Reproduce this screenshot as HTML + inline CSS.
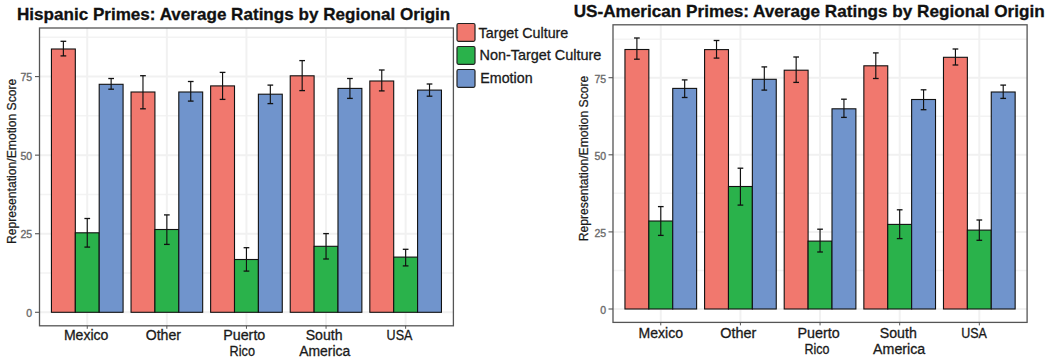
<!DOCTYPE html>
<html><head><meta charset="utf-8"><style>
html,body{margin:0;padding:0;background:#fff;width:1050px;height:363px;overflow:hidden}
svg{display:block;font-family:"Liberation Sans",sans-serif}
</style></head><body>
<svg width="1050" height="363" viewBox="0 0 1050 363">
<rect width="1050" height="363" fill="#fff"/>
<line x1="39.5" x2="453.4" y1="273.01" y2="273.01" stroke="#F3F3F3" stroke-width="1.5"/>
<line x1="39.5" x2="453.4" y1="194.44" y2="194.44" stroke="#F3F3F3" stroke-width="1.5"/>
<line x1="39.5" x2="453.4" y1="115.86" y2="115.86" stroke="#F3F3F3" stroke-width="1.5"/>
<line x1="39.5" x2="453.4" y1="37.29" y2="37.29" stroke="#F3F3F3" stroke-width="1.5"/>
<line x1="39.5" x2="453.4" y1="312.30" y2="312.30" stroke="#F1F1F1" stroke-width="2"/>
<line x1="39.5" x2="453.4" y1="233.73" y2="233.73" stroke="#F1F1F1" stroke-width="2"/>
<line x1="39.5" x2="453.4" y1="155.15" y2="155.15" stroke="#F1F1F1" stroke-width="2"/>
<line x1="39.5" x2="453.4" y1="76.58" y2="76.58" stroke="#F1F1F1" stroke-width="2"/>
<line x1="87.26" x2="87.26" y1="28" y2="325.8" stroke="#F1F1F1" stroke-width="2"/>
<line x1="166.85" x2="166.85" y1="28" y2="325.8" stroke="#F1F1F1" stroke-width="2"/>
<line x1="246.45" x2="246.45" y1="28" y2="325.8" stroke="#F1F1F1" stroke-width="2"/>
<line x1="326.05" x2="326.05" y1="28" y2="325.8" stroke="#F1F1F1" stroke-width="2"/>
<line x1="405.64" x2="405.64" y1="28" y2="325.8" stroke="#F1F1F1" stroke-width="2"/>
<rect x="51.44" y="49.00" width="23.88" height="263.30" fill="#F1786E" stroke="#111" stroke-width="1.1"/>
<rect x="75.32" y="232.80" width="23.88" height="79.50" fill="#2AB24B" stroke="#111" stroke-width="1.1"/>
<rect x="99.20" y="84.30" width="23.88" height="228.00" fill="#7094CC" stroke="#111" stroke-width="1.1"/>
<line x1="63.38" x2="63.38" y1="41.30" y2="55.90" stroke="#111" stroke-width="1.15"/>
<line x1="60.53" x2="66.23" y1="41.30" y2="41.30" stroke="#111" stroke-width="1.3"/>
<line x1="60.53" x2="66.23" y1="55.90" y2="55.90" stroke="#111" stroke-width="1.3"/>
<line x1="87.26" x2="87.26" y1="218.50" y2="247.10" stroke="#111" stroke-width="1.15"/>
<line x1="84.41" x2="90.11" y1="218.50" y2="218.50" stroke="#111" stroke-width="1.3"/>
<line x1="84.41" x2="90.11" y1="247.10" y2="247.10" stroke="#111" stroke-width="1.3"/>
<line x1="111.14" x2="111.14" y1="78.50" y2="89.20" stroke="#111" stroke-width="1.15"/>
<line x1="108.29" x2="113.99" y1="78.50" y2="78.50" stroke="#111" stroke-width="1.3"/>
<line x1="108.29" x2="113.99" y1="89.20" y2="89.20" stroke="#111" stroke-width="1.3"/>
<rect x="131.04" y="92.00" width="23.88" height="220.30" fill="#F1786E" stroke="#111" stroke-width="1.1"/>
<rect x="154.91" y="229.50" width="23.88" height="82.80" fill="#2AB24B" stroke="#111" stroke-width="1.1"/>
<rect x="178.79" y="92.00" width="23.88" height="220.30" fill="#7094CC" stroke="#111" stroke-width="1.1"/>
<line x1="142.97" x2="142.97" y1="75.70" y2="108.80" stroke="#111" stroke-width="1.15"/>
<line x1="140.12" x2="145.82" y1="75.70" y2="75.70" stroke="#111" stroke-width="1.3"/>
<line x1="140.12" x2="145.82" y1="108.80" y2="108.80" stroke="#111" stroke-width="1.3"/>
<line x1="166.85" x2="166.85" y1="214.90" y2="244.40" stroke="#111" stroke-width="1.15"/>
<line x1="164.00" x2="169.70" y1="214.90" y2="214.90" stroke="#111" stroke-width="1.3"/>
<line x1="164.00" x2="169.70" y1="244.40" y2="244.40" stroke="#111" stroke-width="1.3"/>
<line x1="190.73" x2="190.73" y1="81.50" y2="101.10" stroke="#111" stroke-width="1.15"/>
<line x1="187.88" x2="193.58" y1="81.50" y2="81.50" stroke="#111" stroke-width="1.3"/>
<line x1="187.88" x2="193.58" y1="101.10" y2="101.10" stroke="#111" stroke-width="1.3"/>
<rect x="210.63" y="85.90" width="23.88" height="226.40" fill="#F1786E" stroke="#111" stroke-width="1.1"/>
<rect x="234.51" y="259.50" width="23.88" height="52.80" fill="#2AB24B" stroke="#111" stroke-width="1.1"/>
<rect x="258.39" y="94.20" width="23.88" height="218.10" fill="#7094CC" stroke="#111" stroke-width="1.1"/>
<line x1="222.57" x2="222.57" y1="72.40" y2="99.40" stroke="#111" stroke-width="1.15"/>
<line x1="219.72" x2="225.42" y1="72.40" y2="72.40" stroke="#111" stroke-width="1.3"/>
<line x1="219.72" x2="225.42" y1="99.40" y2="99.40" stroke="#111" stroke-width="1.3"/>
<line x1="246.45" x2="246.45" y1="247.70" y2="271.10" stroke="#111" stroke-width="1.15"/>
<line x1="243.60" x2="249.30" y1="247.70" y2="247.70" stroke="#111" stroke-width="1.3"/>
<line x1="243.60" x2="249.30" y1="271.10" y2="271.10" stroke="#111" stroke-width="1.3"/>
<line x1="270.33" x2="270.33" y1="85.10" y2="103.60" stroke="#111" stroke-width="1.15"/>
<line x1="267.48" x2="273.18" y1="85.10" y2="85.10" stroke="#111" stroke-width="1.3"/>
<line x1="267.48" x2="273.18" y1="103.60" y2="103.60" stroke="#111" stroke-width="1.3"/>
<rect x="290.23" y="75.80" width="23.88" height="236.50" fill="#F1786E" stroke="#111" stroke-width="1.1"/>
<rect x="314.11" y="246.30" width="23.88" height="66.00" fill="#2AB24B" stroke="#111" stroke-width="1.1"/>
<rect x="337.99" y="88.40" width="23.88" height="223.90" fill="#7094CC" stroke="#111" stroke-width="1.1"/>
<line x1="302.17" x2="302.17" y1="60.60" y2="90.60" stroke="#111" stroke-width="1.15"/>
<line x1="299.32" x2="305.02" y1="60.60" y2="60.60" stroke="#111" stroke-width="1.3"/>
<line x1="299.32" x2="305.02" y1="90.60" y2="90.60" stroke="#111" stroke-width="1.3"/>
<line x1="326.05" x2="326.05" y1="233.60" y2="259.00" stroke="#111" stroke-width="1.15"/>
<line x1="323.20" x2="328.90" y1="233.60" y2="233.60" stroke="#111" stroke-width="1.3"/>
<line x1="323.20" x2="328.90" y1="259.00" y2="259.00" stroke="#111" stroke-width="1.3"/>
<line x1="349.93" x2="349.93" y1="78.50" y2="98.40" stroke="#111" stroke-width="1.15"/>
<line x1="347.07" x2="352.78" y1="78.50" y2="78.50" stroke="#111" stroke-width="1.3"/>
<line x1="347.07" x2="352.78" y1="98.40" y2="98.40" stroke="#111" stroke-width="1.3"/>
<rect x="369.82" y="81.00" width="23.88" height="231.30" fill="#F1786E" stroke="#111" stroke-width="1.1"/>
<rect x="393.70" y="257.10" width="23.88" height="55.20" fill="#2AB24B" stroke="#111" stroke-width="1.1"/>
<rect x="417.58" y="90.10" width="23.88" height="222.20" fill="#7094CC" stroke="#111" stroke-width="1.1"/>
<line x1="381.76" x2="381.76" y1="70.00" y2="90.90" stroke="#111" stroke-width="1.15"/>
<line x1="378.91" x2="384.61" y1="70.00" y2="70.00" stroke="#111" stroke-width="1.3"/>
<line x1="378.91" x2="384.61" y1="90.90" y2="90.90" stroke="#111" stroke-width="1.3"/>
<line x1="405.64" x2="405.64" y1="249.30" y2="265.90" stroke="#111" stroke-width="1.15"/>
<line x1="402.79" x2="408.49" y1="249.30" y2="249.30" stroke="#111" stroke-width="1.3"/>
<line x1="402.79" x2="408.49" y1="265.90" y2="265.90" stroke="#111" stroke-width="1.3"/>
<line x1="429.52" x2="429.52" y1="84.00" y2="96.20" stroke="#111" stroke-width="1.15"/>
<line x1="426.67" x2="432.37" y1="84.00" y2="84.00" stroke="#111" stroke-width="1.3"/>
<line x1="426.67" x2="432.37" y1="96.20" y2="96.20" stroke="#111" stroke-width="1.3"/>
<rect x="39.5" y="28" width="413.9" height="297.8" fill="none" stroke="#555555" stroke-width="1.3"/>
<line x1="35.0" x2="39.5" y1="312.30" y2="312.30" stroke="#555555" stroke-width="1.1"/>
<text x="32.20" y="316.70" text-anchor="end" font-size="10.5" fill="#6b6b6b" stroke="#6b6b6b" stroke-width="0.35">0</text>
<line x1="35.0" x2="39.5" y1="233.73" y2="233.73" stroke="#555555" stroke-width="1.1"/>
<text x="32.20" y="238.13" text-anchor="end" font-size="10.5" fill="#6b6b6b" stroke="#6b6b6b" stroke-width="0.35">25</text>
<line x1="35.0" x2="39.5" y1="155.15" y2="155.15" stroke="#555555" stroke-width="1.1"/>
<text x="32.20" y="159.55" text-anchor="end" font-size="10.5" fill="#6b6b6b" stroke="#6b6b6b" stroke-width="0.35">50</text>
<line x1="35.0" x2="39.5" y1="76.58" y2="76.58" stroke="#555555" stroke-width="1.1"/>
<text x="32.20" y="80.98" text-anchor="end" font-size="10.5" fill="#6b6b6b" stroke="#6b6b6b" stroke-width="0.35">75</text>
<line x1="87.26" x2="87.26" y1="325.8" y2="328.8" stroke="#555555" stroke-width="1"/>
<line x1="166.85" x2="166.85" y1="325.8" y2="328.8" stroke="#555555" stroke-width="1"/>
<line x1="246.45" x2="246.45" y1="325.8" y2="328.8" stroke="#555555" stroke-width="1"/>
<line x1="326.05" x2="326.05" y1="325.8" y2="328.8" stroke="#555555" stroke-width="1"/>
<line x1="405.64" x2="405.64" y1="325.8" y2="328.8" stroke="#555555" stroke-width="1"/>
<text x="63.90" y="339.60" font-size="14" fill="#1a1a1a" stroke="#1a1a1a" stroke-width="0.3" textLength="44.57" lengthAdjust="spacingAndGlyphs">Mexico</text>
<text x="145.70" y="339.60" font-size="14" fill="#1a1a1a" stroke="#1a1a1a" stroke-width="0.3" textLength="35.21" lengthAdjust="spacingAndGlyphs">Other</text>
<text x="223.20" y="339.60" font-size="14" fill="#1a1a1a" stroke="#1a1a1a" stroke-width="0.3" textLength="42.12" lengthAdjust="spacingAndGlyphs">Puerto</text>
<text x="229.60" y="355.50" font-size="14" fill="#1a1a1a" stroke="#1a1a1a" stroke-width="0.3" textLength="25.41" lengthAdjust="spacingAndGlyphs">Rico</text>
<text x="305.70" y="339.60" font-size="14" fill="#1a1a1a" stroke="#1a1a1a" stroke-width="0.3" textLength="36.88" lengthAdjust="spacingAndGlyphs">South</text>
<text x="299.20" y="355.50" font-size="14" fill="#1a1a1a" stroke="#1a1a1a" stroke-width="0.3" textLength="51.07" lengthAdjust="spacingAndGlyphs">America</text>
<text x="386.60" y="339.60" font-size="14" fill="#1a1a1a" stroke="#1a1a1a" stroke-width="0.3" textLength="25.75" lengthAdjust="spacingAndGlyphs">USA</text>
<text x="17.00" y="19.70" font-size="17" font-weight="bold" fill="#111" stroke="#111" stroke-width="0.3" textLength="433.24" lengthAdjust="spacingAndGlyphs">Hispanic Primes: Average Ratings by Regional Origin</text>
<text transform="translate(16.40,244.00) rotate(-90)" x="0" y="0" font-size="12.3" fill="#1a1a1a" stroke="#1a1a1a" stroke-width="0.25" textLength="165.29" lengthAdjust="spacingAndGlyphs">Representation/Emotion Score</text>
<line x1="613.0" x2="1027.1" y1="270.45" y2="270.45" stroke="#F3F3F3" stroke-width="1.5"/>
<line x1="613.0" x2="1027.1" y1="193.35" y2="193.35" stroke="#F3F3F3" stroke-width="1.5"/>
<line x1="613.0" x2="1027.1" y1="116.25" y2="116.25" stroke="#F3F3F3" stroke-width="1.5"/>
<line x1="613.0" x2="1027.1" y1="39.15" y2="39.15" stroke="#F3F3F3" stroke-width="1.5"/>
<line x1="613.0" x2="1027.1" y1="309.00" y2="309.00" stroke="#F1F1F1" stroke-width="2"/>
<line x1="613.0" x2="1027.1" y1="231.90" y2="231.90" stroke="#F1F1F1" stroke-width="2"/>
<line x1="613.0" x2="1027.1" y1="154.80" y2="154.80" stroke="#F1F1F1" stroke-width="2"/>
<line x1="613.0" x2="1027.1" y1="77.70" y2="77.70" stroke="#F1F1F1" stroke-width="2"/>
<line x1="660.78" x2="660.78" y1="24.8" y2="322.4" stroke="#F1F1F1" stroke-width="2"/>
<line x1="740.42" x2="740.42" y1="24.8" y2="322.4" stroke="#F1F1F1" stroke-width="2"/>
<line x1="820.05" x2="820.05" y1="24.8" y2="322.4" stroke="#F1F1F1" stroke-width="2"/>
<line x1="899.68" x2="899.68" y1="24.8" y2="322.4" stroke="#F1F1F1" stroke-width="2"/>
<line x1="979.32" x2="979.32" y1="24.8" y2="322.4" stroke="#F1F1F1" stroke-width="2"/>
<rect x="624.95" y="49.50" width="23.89" height="259.50" fill="#F1786E" stroke="#111" stroke-width="1.1"/>
<rect x="648.84" y="221.00" width="23.89" height="88.00" fill="#2AB24B" stroke="#111" stroke-width="1.1"/>
<rect x="672.73" y="88.40" width="23.89" height="220.60" fill="#7094CC" stroke="#111" stroke-width="1.1"/>
<line x1="636.89" x2="636.89" y1="38.00" y2="59.20" stroke="#111" stroke-width="1.15"/>
<line x1="634.04" x2="639.74" y1="38.00" y2="38.00" stroke="#111" stroke-width="1.3"/>
<line x1="634.04" x2="639.74" y1="59.20" y2="59.20" stroke="#111" stroke-width="1.3"/>
<line x1="660.78" x2="660.78" y1="206.60" y2="235.40" stroke="#111" stroke-width="1.15"/>
<line x1="657.93" x2="663.63" y1="206.60" y2="206.60" stroke="#111" stroke-width="1.3"/>
<line x1="657.93" x2="663.63" y1="235.40" y2="235.40" stroke="#111" stroke-width="1.3"/>
<line x1="684.67" x2="684.67" y1="79.90" y2="97.50" stroke="#111" stroke-width="1.15"/>
<line x1="681.82" x2="687.52" y1="79.90" y2="79.90" stroke="#111" stroke-width="1.3"/>
<line x1="681.82" x2="687.52" y1="97.50" y2="97.50" stroke="#111" stroke-width="1.3"/>
<rect x="704.58" y="49.60" width="23.89" height="259.40" fill="#F1786E" stroke="#111" stroke-width="1.1"/>
<rect x="728.47" y="186.50" width="23.89" height="122.50" fill="#2AB24B" stroke="#111" stroke-width="1.1"/>
<rect x="752.36" y="79.30" width="23.89" height="229.70" fill="#7094CC" stroke="#111" stroke-width="1.1"/>
<line x1="716.52" x2="716.52" y1="40.50" y2="58.10" stroke="#111" stroke-width="1.15"/>
<line x1="713.67" x2="719.38" y1="40.50" y2="40.50" stroke="#111" stroke-width="1.3"/>
<line x1="713.67" x2="719.38" y1="58.10" y2="58.10" stroke="#111" stroke-width="1.3"/>
<line x1="740.42" x2="740.42" y1="168.20" y2="205.10" stroke="#111" stroke-width="1.15"/>
<line x1="737.57" x2="743.27" y1="168.20" y2="168.20" stroke="#111" stroke-width="1.3"/>
<line x1="737.57" x2="743.27" y1="205.10" y2="205.10" stroke="#111" stroke-width="1.3"/>
<line x1="764.31" x2="764.31" y1="66.90" y2="90.10" stroke="#111" stroke-width="1.15"/>
<line x1="761.46" x2="767.16" y1="66.90" y2="66.90" stroke="#111" stroke-width="1.3"/>
<line x1="761.46" x2="767.16" y1="90.10" y2="90.10" stroke="#111" stroke-width="1.3"/>
<rect x="784.21" y="70.20" width="23.89" height="238.80" fill="#F1786E" stroke="#111" stroke-width="1.1"/>
<rect x="808.10" y="241.10" width="23.89" height="67.90" fill="#2AB24B" stroke="#111" stroke-width="1.1"/>
<rect x="832.00" y="108.80" width="23.89" height="200.20" fill="#7094CC" stroke="#111" stroke-width="1.1"/>
<line x1="796.16" x2="796.16" y1="57.00" y2="82.40" stroke="#111" stroke-width="1.15"/>
<line x1="793.31" x2="799.01" y1="57.00" y2="57.00" stroke="#111" stroke-width="1.3"/>
<line x1="793.31" x2="799.01" y1="82.40" y2="82.40" stroke="#111" stroke-width="1.3"/>
<line x1="820.05" x2="820.05" y1="229.20" y2="252.00" stroke="#111" stroke-width="1.15"/>
<line x1="817.20" x2="822.90" y1="229.20" y2="229.20" stroke="#111" stroke-width="1.3"/>
<line x1="817.20" x2="822.90" y1="252.00" y2="252.00" stroke="#111" stroke-width="1.3"/>
<line x1="843.94" x2="843.94" y1="99.20" y2="117.40" stroke="#111" stroke-width="1.15"/>
<line x1="841.09" x2="846.79" y1="99.20" y2="99.20" stroke="#111" stroke-width="1.3"/>
<line x1="841.09" x2="846.79" y1="117.40" y2="117.40" stroke="#111" stroke-width="1.3"/>
<rect x="863.85" y="65.80" width="23.89" height="243.20" fill="#F1786E" stroke="#111" stroke-width="1.1"/>
<rect x="887.74" y="224.40" width="23.89" height="84.60" fill="#2AB24B" stroke="#111" stroke-width="1.1"/>
<rect x="911.63" y="99.50" width="23.89" height="209.50" fill="#7094CC" stroke="#111" stroke-width="1.1"/>
<line x1="875.79" x2="875.79" y1="52.90" y2="78.50" stroke="#111" stroke-width="1.15"/>
<line x1="872.94" x2="878.64" y1="52.90" y2="52.90" stroke="#111" stroke-width="1.3"/>
<line x1="872.94" x2="878.64" y1="78.50" y2="78.50" stroke="#111" stroke-width="1.3"/>
<line x1="899.68" x2="899.68" y1="209.80" y2="238.60" stroke="#111" stroke-width="1.15"/>
<line x1="896.83" x2="902.53" y1="209.80" y2="209.80" stroke="#111" stroke-width="1.3"/>
<line x1="896.83" x2="902.53" y1="238.60" y2="238.60" stroke="#111" stroke-width="1.3"/>
<line x1="923.57" x2="923.57" y1="89.80" y2="109.70" stroke="#111" stroke-width="1.15"/>
<line x1="920.72" x2="926.42" y1="89.80" y2="89.80" stroke="#111" stroke-width="1.3"/>
<line x1="920.72" x2="926.42" y1="109.70" y2="109.70" stroke="#111" stroke-width="1.3"/>
<rect x="943.48" y="57.30" width="23.89" height="251.70" fill="#F1786E" stroke="#111" stroke-width="1.1"/>
<rect x="967.37" y="230.10" width="23.89" height="78.90" fill="#2AB24B" stroke="#111" stroke-width="1.1"/>
<rect x="991.26" y="92.00" width="23.89" height="217.00" fill="#7094CC" stroke="#111" stroke-width="1.1"/>
<line x1="955.43" x2="955.43" y1="49.00" y2="65.00" stroke="#111" stroke-width="1.15"/>
<line x1="952.58" x2="958.28" y1="49.00" y2="49.00" stroke="#111" stroke-width="1.3"/>
<line x1="952.58" x2="958.28" y1="65.00" y2="65.00" stroke="#111" stroke-width="1.3"/>
<line x1="979.32" x2="979.32" y1="220.00" y2="240.30" stroke="#111" stroke-width="1.15"/>
<line x1="976.47" x2="982.17" y1="220.00" y2="220.00" stroke="#111" stroke-width="1.3"/>
<line x1="976.47" x2="982.17" y1="240.30" y2="240.30" stroke="#111" stroke-width="1.3"/>
<line x1="1003.21" x2="1003.21" y1="85.10" y2="98.40" stroke="#111" stroke-width="1.15"/>
<line x1="1000.36" x2="1006.06" y1="85.10" y2="85.10" stroke="#111" stroke-width="1.3"/>
<line x1="1000.36" x2="1006.06" y1="98.40" y2="98.40" stroke="#111" stroke-width="1.3"/>
<rect x="613.0" y="24.8" width="414.0999999999999" height="297.59999999999997" fill="none" stroke="#555555" stroke-width="1.3"/>
<line x1="608.5" x2="613.0" y1="309.00" y2="309.00" stroke="#555555" stroke-width="1.1"/>
<text x="606.20" y="314.40" text-anchor="end" font-size="10.5" fill="#6b6b6b" stroke="#6b6b6b" stroke-width="0.35">0</text>
<line x1="608.5" x2="613.0" y1="231.90" y2="231.90" stroke="#555555" stroke-width="1.1"/>
<text x="606.20" y="237.30" text-anchor="end" font-size="10.5" fill="#6b6b6b" stroke="#6b6b6b" stroke-width="0.35">25</text>
<line x1="608.5" x2="613.0" y1="154.80" y2="154.80" stroke="#555555" stroke-width="1.1"/>
<text x="606.20" y="160.20" text-anchor="end" font-size="10.5" fill="#6b6b6b" stroke="#6b6b6b" stroke-width="0.35">50</text>
<line x1="608.5" x2="613.0" y1="77.70" y2="77.70" stroke="#555555" stroke-width="1.1"/>
<text x="606.20" y="83.10" text-anchor="end" font-size="10.5" fill="#6b6b6b" stroke="#6b6b6b" stroke-width="0.35">75</text>
<line x1="660.78" x2="660.78" y1="322.4" y2="325.4" stroke="#555555" stroke-width="1"/>
<line x1="740.42" x2="740.42" y1="322.4" y2="325.4" stroke="#555555" stroke-width="1"/>
<line x1="820.05" x2="820.05" y1="322.4" y2="325.4" stroke="#555555" stroke-width="1"/>
<line x1="899.68" x2="899.68" y1="322.4" y2="325.4" stroke="#555555" stroke-width="1"/>
<line x1="979.32" x2="979.32" y1="322.4" y2="325.4" stroke="#555555" stroke-width="1"/>
<text x="638.50" y="338.10" font-size="14" fill="#1a1a1a" stroke="#1a1a1a" stroke-width="0.3" textLength="44.47" lengthAdjust="spacingAndGlyphs">Mexico</text>
<text x="720.30" y="338.10" font-size="14" fill="#1a1a1a" stroke="#1a1a1a" stroke-width="0.3" textLength="36.01" lengthAdjust="spacingAndGlyphs">Other</text>
<text x="797.50" y="338.10" font-size="14" fill="#1a1a1a" stroke="#1a1a1a" stroke-width="0.3" textLength="42.22" lengthAdjust="spacingAndGlyphs">Puerto</text>
<text x="804.40" y="354.00" font-size="14" fill="#1a1a1a" stroke="#1a1a1a" stroke-width="0.3" textLength="25.01" lengthAdjust="spacingAndGlyphs">Rico</text>
<text x="879.80" y="338.10" font-size="14" fill="#1a1a1a" stroke="#1a1a1a" stroke-width="0.3" textLength="36.98" lengthAdjust="spacingAndGlyphs">South</text>
<text x="873.10" y="354.00" font-size="14" fill="#1a1a1a" stroke="#1a1a1a" stroke-width="0.3" textLength="52.17" lengthAdjust="spacingAndGlyphs">America</text>
<text x="961.30" y="338.10" font-size="14" fill="#1a1a1a" stroke="#1a1a1a" stroke-width="0.3" textLength="25.65" lengthAdjust="spacingAndGlyphs">USA</text>
<text x="573.70" y="17.40" font-size="17" font-weight="bold" fill="#111" stroke="#111" stroke-width="0.3" textLength="470.99" lengthAdjust="spacingAndGlyphs">US-American Primes: Average Ratings by Regional Origin</text>
<text transform="translate(588.20,241.30) rotate(-90)" x="0" y="0" font-size="12.3" fill="#1a1a1a" stroke="#1a1a1a" stroke-width="0.25" textLength="165.59" lengthAdjust="spacingAndGlyphs">Representation/Emotion Score</text>
<rect x="457" y="23.50" width="18" height="17.8" rx="1.5" fill="#F1786E" stroke="#222" stroke-width="1.2"/>
<text x="478.60" y="37.50" font-size="14.1" fill="#1a1a1a" stroke="#1a1a1a" stroke-width="0.3" textLength="89.71" lengthAdjust="spacingAndGlyphs">Target Culture</text>
<rect x="457" y="46.50" width="18" height="17.8" rx="1.5" fill="#2AB24B" stroke="#222" stroke-width="1.2"/>
<text x="479.50" y="60.10" font-size="14.1" fill="#1a1a1a" stroke="#1a1a1a" stroke-width="0.3" textLength="121.88" lengthAdjust="spacingAndGlyphs">Non-Target Culture</text>
<rect x="457" y="69.50" width="18" height="17.8" rx="1.5" fill="#7094CC" stroke="#222" stroke-width="1.2"/>
<text x="480.30" y="82.90" font-size="14.1" fill="#1a1a1a" stroke="#1a1a1a" stroke-width="0.3" textLength="52.28" lengthAdjust="spacingAndGlyphs">Emotion</text>
</svg>
</body></html>
